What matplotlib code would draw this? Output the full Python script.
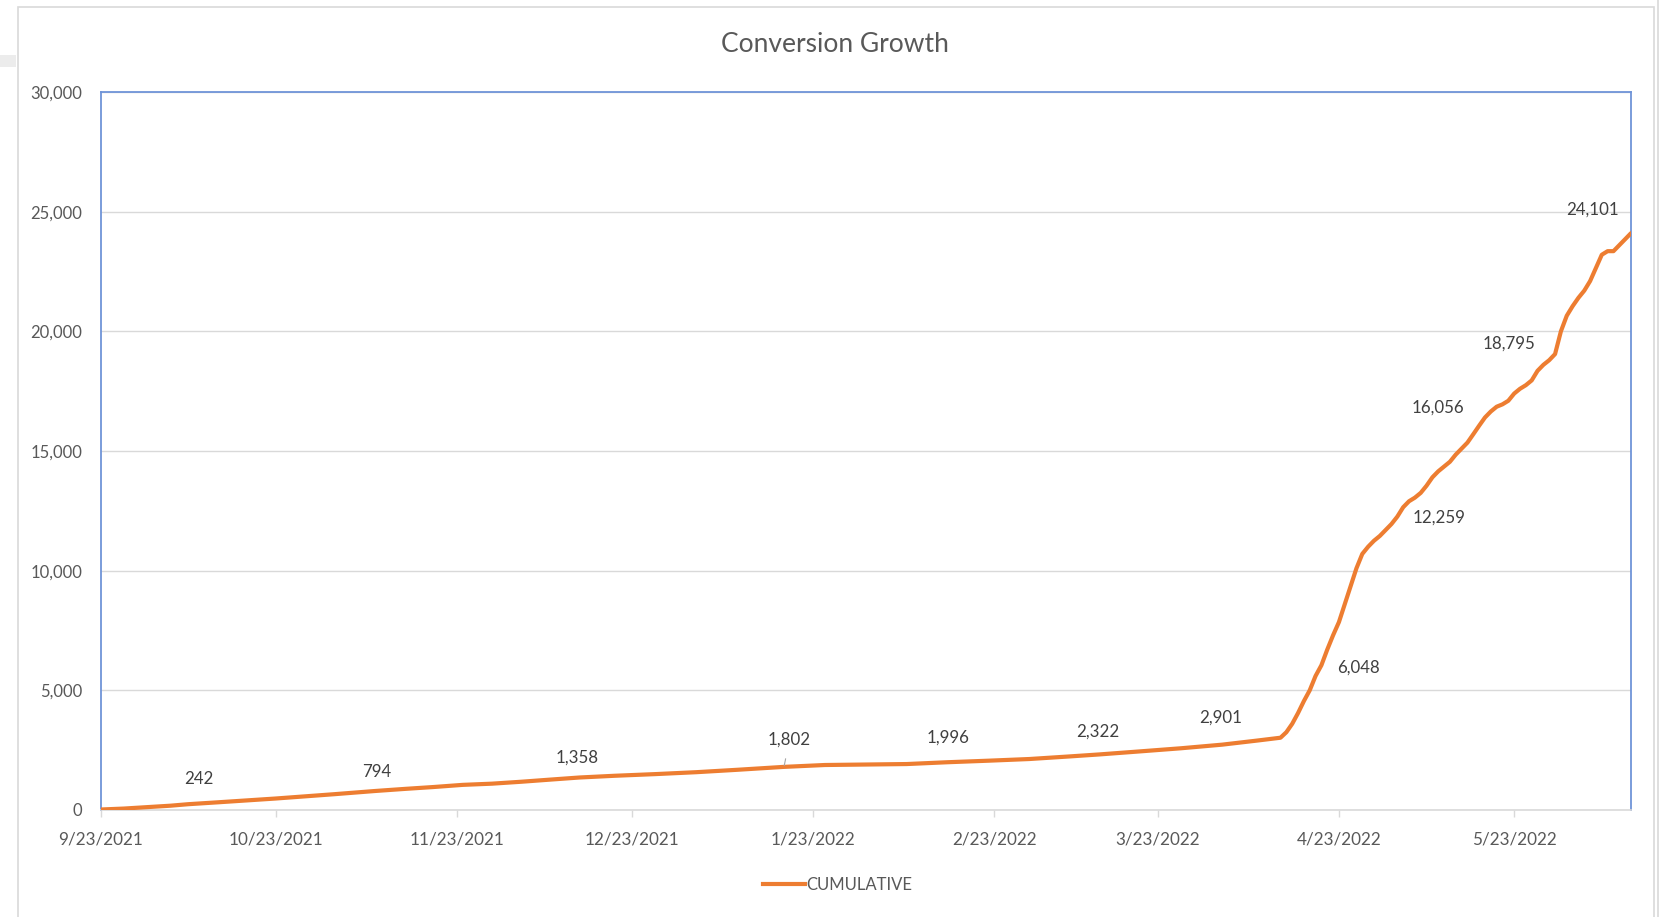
import matplotlib
matplotlib.use("Agg")
import matplotlib.pyplot as plt
from matplotlib.patches import Rectangle
from matplotlib.lines import Line2D
import pandas as pd

plt.rcParams['font.family'] = ['Lato', 'DejaVu Sans']

# --- donnees ---
dates = [
    "2021-09-23", "2021-09-27", "2021-10-01", "2021-10-05", "2021-10-08", "2021-10-13",
    "2021-10-18", "2021-10-23", "2021-10-28", "2021-11-02", "2021-11-09", "2021-11-14",
    "2021-11-19", "2021-11-24", "2021-11-29", "2021-12-04", "2021-12-09", "2021-12-14",
    "2021-12-20", "2021-12-27", "2022-01-03", "2022-01-10", "2022-01-18", "2022-01-25",
    "2022-02-01", "2022-02-08", "2022-02-15", "2022-02-22", "2022-03-01", "2022-03-08",
    "2022-03-13", "2022-03-20", "2022-03-27", "2022-04-03", "2022-04-09", "2022-04-13",
    "2022-04-14", "2022-04-15", "2022-04-16", "2022-04-17", "2022-04-18", "2022-04-19",
    "2022-04-20", "2022-04-21", "2022-04-22", "2022-04-23", "2022-04-24", "2022-04-25",
    "2022-04-26", "2022-04-27", "2022-04-28", "2022-04-29", "2022-04-30", "2022-05-01",
    "2022-05-02", "2022-05-03", "2022-05-04", "2022-05-05", "2022-05-06", "2022-05-07",
    "2022-05-08", "2022-05-09", "2022-05-10", "2022-05-11", "2022-05-12", "2022-05-13",
    "2022-05-14", "2022-05-15", "2022-05-16", "2022-05-17", "2022-05-18", "2022-05-19",
    "2022-05-20", "2022-05-21", "2022-05-22", "2022-05-23", "2022-05-24", "2022-05-25",
    "2022-05-26", "2022-05-27", "2022-05-28", "2022-05-29", "2022-05-30", "2022-05-31",
    "2022-06-01", "2022-06-02", "2022-06-03", "2022-06-04", "2022-06-05", "2022-06-06",
    "2022-06-07", "2022-06-08", "2022-06-09", "2022-06-10", "2022-06-11", "2022-06-12",
]
cumulative = [
    20, 60, 120, 180, 242, 320,
    400, 480, 570, 660, 794, 880,
    960, 1050, 1100, 1180, 1270, 1358,
    1430, 1500, 1580, 1680, 1802, 1880,
    1900, 1920, 1996, 2060, 2130, 2240,
    2322, 2450, 2580, 2730, 2901, 3020,
    3250, 3600, 4050, 4550, 5000, 5600,
    6048, 6700, 7300, 7850, 8600, 9350,
    10100, 10700, 11000, 11250, 11450, 11700,
    11950, 12259, 12650, 12900, 13050, 13250,
    13550, 13900, 14150, 14350, 14550, 14850,
    15100, 15350, 15700, 16056, 16400, 16650,
    16850, 16950, 17100, 17400, 17600, 17750,
    17950, 18350, 18600, 18795, 19050, 20000,
    20650, 21050, 21400, 21700, 22100, 22650,
    23200, 23350, 23350, 23600, 23850, 24101,
]

# etiquettes de donnees affichees
label_dates = ["2021-10-08", "2021-11-09", "2021-12-14", "2022-01-18", "2022-02-15", "2022-03-13",
               "2022-04-09", "2022-04-20", "2022-05-03", "2022-05-17", "2022-05-29", "2022-06-12"]
label_values = [242, 794, 1358, 1802, 1996, 2322, 2901, 6048, 12259, 16056, 18795, 24101]
# decalage des etiquettes (points)
label_offsets = [(8, 18), (1.5, 14), (-2, 14), (4, 19.5), (0, 18), (-1.5, 16.5),
                 (-26, 16.5), (27, -1.5), (30, -1), (-30, 13), (-29, 12), (-28, 17)]

tick_dates = ["2021-09-23", "2021-10-23", "2021-11-23", "2021-12-23", "2022-01-23",
              "2022-02-23", "2022-03-23", "2022-04-23", "2022-05-23"]
tick_labels = ["9/23/2021", "10/23/2021", "11/23/2021", "12/23/2021", "1/23/2022",
               "2/23/2022", "3/23/2022", "4/23/2022", "5/23/2022"]

x = pd.to_datetime(dates)

fig = plt.figure(figsize=(16.6, 9.17), dpi=100)
ax = fig.add_axes([100.5 / 1660, 1 - 810 / 917, (1631 - 100.5) / 1660, (810 - 92) / 917])

# cadre du graphique (style excel)
fig.patches.append(Rectangle((17.5 / 1660, -0.02), (1654 - 17.5) / 1660, 1.02 - 7 / 917,
                             transform=fig.transFigure, fill=False, edgecolor='#d9d9d9', lw=1.2))
fig.patches.append(Rectangle((0, 1 - 67 / 917), 16 / 1660, 12 / 917,
                             transform=fig.transFigure, color='#ececec', lw=0))
fig.lines.append(Line2D([1658 / 1660, 1658 / 1660], [0, 1], transform=fig.transFigure,
                        color='#d9d9d9', lw=1.2))

orange = '#ED7D31'
ax.plot(x, cumulative, color=orange, lw=3, solid_capstyle='round', label='CUMULATIVE', zorder=3)

for d, v, off in zip(label_dates, label_values, label_offsets):
    props = None
    if v == 1802:
        props = dict(arrowstyle='-', color='#a6a6a6', lw=0.8, shrinkA=6, shrinkB=1)
    ax.annotate(f"{v:,}", xy=(pd.Timestamp(d), v), xytext=off, textcoords='offset points',
                ha='center', va='center', fontsize=12.2, color='#404040', arrowprops=props)

ax.set_xlim(pd.Timestamp("2021-09-23"), pd.Timestamp("2022-06-12"))
ax.set_ylim(0, 30000)
ax.set_yticks(range(0, 30001, 5000))
ax.set_yticklabels([f"{v:,}" for v in range(0, 30001, 5000)])
ax.set_xticks(pd.to_datetime(tick_dates))
ax.set_xticklabels(tick_labels)

ax.grid(axis='y', color='#d9d9d9', lw=1)
ax.set_axisbelow(True)
ax.tick_params(axis='y', length=0, pad=13, labelsize=12, labelcolor='#595959')
ax.tick_params(axis='x', length=5, width=1, color='#d9d9d9', pad=10.5, labelsize=12.3, labelcolor='#595959')

for s in ['top', 'left', 'right']:
    ax.spines[s].set_color('#6f94d8')
    ax.spines[s].set_linewidth(1.3)
ax.spines['bottom'].set_color('#d9d9d9')
ax.spines['bottom'].set_linewidth(1.2)

fig.text(835 / 1660, 1 - 45 / 917, "Conversion Growth", ha='center', va='center',
         fontsize=19, color='#595959')

fig.legend(handles=[Line2D([], [], color=orange, lw=3)], labels=['CUMULATIVE'],
           loc='center', bbox_to_anchor=(838 / 1660, 1 - 885 / 917), frameon=False,
           fontsize=12, labelcolor='#595959', handlelength=2.5, handletextpad=0.1)

fig.savefig('out.png', dpi=100)
